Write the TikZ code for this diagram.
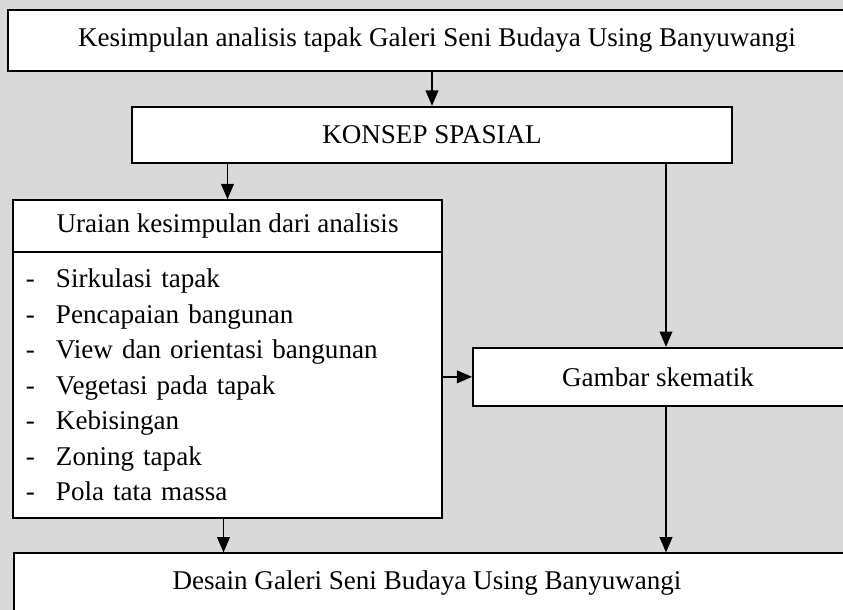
\documentclass[tikz,border=0pt]{standalone}
\usepackage{fontspec}
\setmainfont{Liberation Serif}
\usetikzlibrary{arrows.meta}
\definecolor{pagegrey}{HTML}{D9D9D9}
\tikzset{
  boxtext/.style={font=\fontsize{20.3}{24}\selectfont},
  flowbox/.style={draw=black,fill=white,line width=1.3pt,inner sep=2pt,boxtext},
  listbox/.style={flowbox,align=left,inner xsep=9.75pt,text width=302.25pt,font=\fontsize{20.3}{26.6}\selectfont},
  flowarrow/.style={-{Triangle[length=11.5pt,width=9.5pt]},line width=1.3pt},
}
\newcommand{\listitem}[1]{\makebox[22.5pt][l]{-}#1}

\begin{document}
\begin{tikzpicture}[x=0.75pt,y=-0.75pt]
  \useasboundingbox (0,0) rectangle (843,610);
  \fill[pagegrey] (0,0) rectangle (843,610);
  \clip (0,0) rectangle (843,610);
  \node[flowbox,minimum width=643.5pt,minimum height=45.5pt] (nTop) at (437,40.35)
    {Kesimpulan analisis tapak Galeri Seni Budaya Using Banyuwangi};
  \node[flowbox,minimum width=450pt,minimum height=42.5pt] (nKonsep) at (432,135) {KONSEP SPASIAL};
  \node[flowbox,minimum width=321.75pt,minimum height=38.8pt] (nUraian) at (227.5,226)
    {Uraian kesimpulan dari analisis};
  \node[listbox,minimum height=199.5pt] (nList) at (227.5,385)
    {\listitem{Sirkulasi tapak}\\
     \listitem{Pencapaian bangunan}\\
     \listitem{View dan orientasi bangunan}\\
     \listitem{Vegetasi pada tapak}\\
     \listitem{Kebisingan}\\
     \listitem{Zoning tapak}\\
     \listitem{Pola tata massa}};
  \node[flowbox,minimum width=289.5pt,minimum height=43.7pt,
    label={[boxtext,xshift=-6pt]center:Gambar skematik}] (nGambar) at (666,376.85) {};
  \node[flowbox,minimum width=639pt,minimum height=44.8pt,
    label={[boxtext,xshift=-9.75pt]center:Desain Galeri Seni Budaya Using Banyuwangi}] (nDesain) at (440,583.2) {};
  \draw[flowarrow] (nTop.south -| nKonsep.north) -- (nKonsep.north);
  \draw[flowarrow] (nKonsep.south -| nUraian.north) -- (nUraian.north);
  \draw[flowarrow] (nKonsep.south -| nGambar.north) -- (nGambar.north);
  \draw[flowarrow] (nList.east |- nGambar.west) -- (nGambar.west);
  \draw[flowarrow] ([xshift=-3pt]nList.south) -- ([xshift=-3pt]nList.south |- nDesain.north);
  \draw[flowarrow] (nGambar.south) -- (nGambar.south |- nDesain.north);
\end{tikzpicture}
\end{document}
